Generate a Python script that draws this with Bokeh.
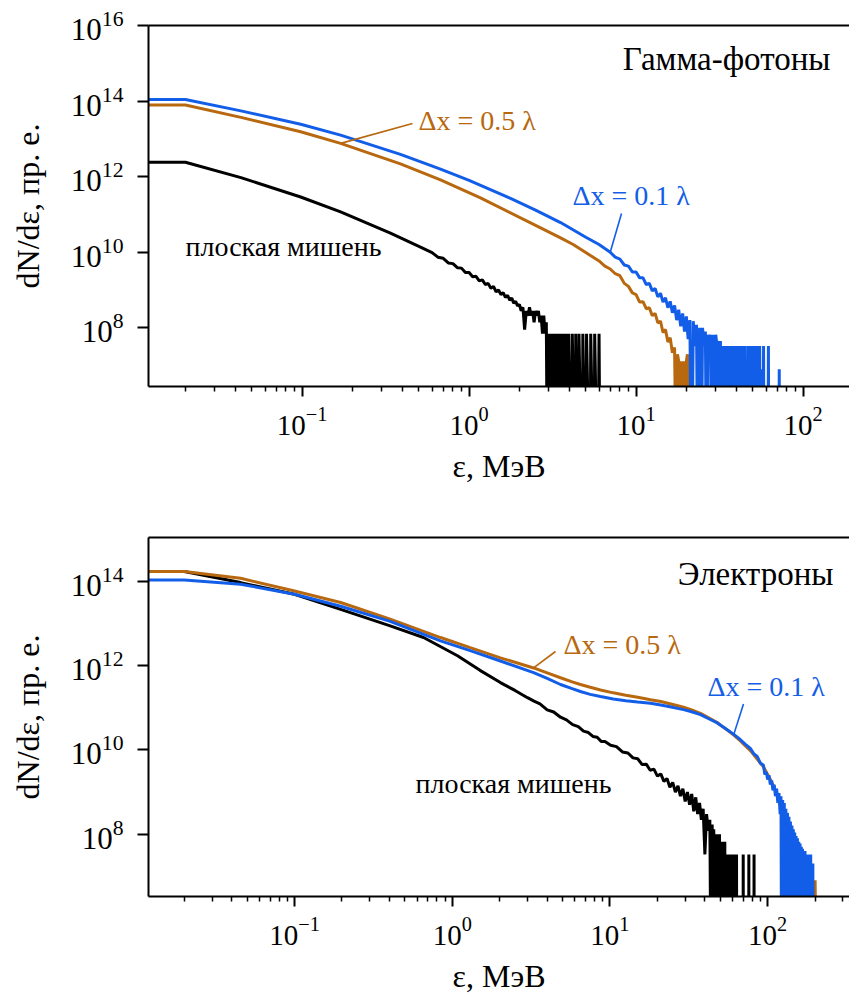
from bokeh.plotting import figure
from bokeh.models import Range1d, FixedTicker, Label, Arrow, LogAxis
from bokeh.layouts import column
from bokeh.embed import file_html
from bokeh.resources import INLINE

Z = 1e3  # empty bin (zero count): drawn down to the axis floor

# ---------------- top panel: gamma photons ----------------
g_plane_x = [0.011, 0.02, 0.043, 0.098, 0.17, 0.338, 0.5, 0.6, 0.65, 0.7,
             0.75, 0.8, 0.85, 0.9, 0.95, 1.0, 1.05, 1.1, 1.15, 1.2,
             1.25, 1.3, 1.35, 1.4, 1.45, 1.5, 1.55, 1.6, 1.65, 1.7,
             1.75, 1.8, 1.85, 1.9, 1.95, 2.0, 2.05, 2.1, 2.15, 2.2,
             2.25, 2.3, 2.35, 2.4, 2.45, 2.5, 2.55, 2.6, 2.65, 2.7,
             2.75, 2.8, 2.85, 2.9, 2.95, 3.0, 3.05, 3.1, 3.15, 3.2,
             3.25, 3.3, 3.35, 3.4, 3.45, 3.5, 3.6, 3.65, 3.75, 3.8,
             3.9, 3.95, 4.1, 4.15, 4.3, 4.35, 4.5, 4.55, 4.75, 4.8,
             5.0, 5.05, 5.3, 5.35, 5.6, 5.65, 5.9, 6.0, 6.1]
g_plane_y = [2.4e12, 2.4e12, 9.4e11, 2.9e11, 1.17e11, 3.2e10, 1.43e10, 9.8e9, 7.4e9, 6.9e9,
             5.2e9, 5.0e9, 3.9e9, 3.8e9, 2.9e9, 2.9e9, 2.25e9, 2.3e9, 1.75e9, 1.85e9,
             1.4e9, 1.5e9, 1.12e9, 1.25e9, 9.0e8, 1.0e9, 7.6e8, 8.5e8, 6.4e8, 7.2e8,
             5.4e8, 6.1e8, 4.5e8, 5.0e8, 3.8e8, 4.2e8, 2.8e8, 3.5e8, 9.0e7, 2.8e8,
             2.1e8, 3.5e8, 2.1e8, 2.8e8, 1.4e8, 2.8e8, 2.1e8, 2.8e8, 1.4e8, 2.1e8,
             7.0e7, 2.1e8, 7.0e7, 1.4e8, Z, 7e7, Z, 7e7, Z, 7e7,
             Z, 7e7, Z, 7e7, Z, 7e7, Z, 7e7, Z, 7e7,
             Z, 7e7, Z, 7e7, Z, 7e7, Z, 7e7, Z, 7e7,
             Z, 7e7, Z, 7e7, Z, 7e7, Z, 7e7, Z]

g_05_x = [0.011, 0.02, 0.043, 0.098, 0.17, 0.388, 0.674, 1.17, 2.68, 3.53,
          4.2, 5.33, 6.0, 6.5, 7.0, 7.5, 8.0, 8.5, 9.0, 9.5,
          10.0, 10.5, 11.0, 11.5, 12.0, 12.5, 13.0, 13.5, 14.0, 14.5,
          15.0, 15.5, 16.0, 16.5, 17.0, 17.5, 17.7, 18.0, 18.3, 18.6,
          19.0, 19.3, 19.6, 20.0, 20.3, 20.6]
g_05_y = [7.9e13, 7.9e13, 3.7e13, 1.54e13, 7.6e12, 2.18e12, 8.2e11, 2.74e11, 4.4e10, 2.4e10,
          1.6e10, 8.2e9, 5.9e9, 4.3e9, 3.6e9, 2.7e9, 2.4e9, 1.5e9, 1.25e9, 8.4e8,
          7.6e8, 4.8e8, 4.9e8, 3.2e8, 3.4e8, 2.1e8, 2.4e8, 1.35e8, 1.5e8, 7.5e7,
          9.0e7, 4.2e7, 5.5e7, 2.2e7, 3.0e7, Z, 2.0e7, 1.3e7, Z, 1.3e7,
          Z, 1.3e7, Z, 1.3e7, 2.0e7, Z]

g_01_x = [0.011, 0.02, 0.043, 0.098, 0.17, 0.388, 0.674, 1.0, 1.77, 2.5,
          3.53, 5.0, 6.0, 6.5, 7.0, 7.5, 8.0, 8.5, 9.0, 9.5,
          10.0, 10.5, 11.0, 11.5, 12.0, 12.5, 13.0, 13.5, 14.0, 14.5,
          15.0, 15.5, 16.0, 16.5, 17.0, 17.5, 18.0, 18.5, 19.0, 19.5,
          20.0, 20.5, 21.0, 21.5, 22.0, 22.5, 23.0, 23.5, 24.0, 24.5,
          25.0, 25.5, 26.0, 26.5, 27.0, 27.5, 28.0, 28.5, 29.0, 29.5,
          30.0, 30.5, 31.0, 31.5, 32.0, 32.5, 33.0, 33.5, 34.0, 34.5,
          35.0, 35.5, 36.0, 36.5, 37.0, 37.5, 38.0, 38.5, 39.0, 39.5,
          40.0, 40.5, 41.0, 41.5, 42.0, 42.5, 43.0, 43.5, 44.0, 44.5,
          45.0, 45.5, 46.0, 46.5, 47.0, 47.5, 48.0, 48.5, 49.0, 49.5,
          50.0, 50.5, 51.0, 51.5, 52.0, 52.5, 53.0, 53.5, 54.0, 54.5,
          55.0, 55.5, 56.0, 56.5, 57.5, 58.0, 58.5, 61.5, 62.0, 62.5,
          71.5, 72.0, 72.5]
g_01_y = [1.1e14, 1.1e14, 5.5e13, 2.44e13, 1.26e13, 3.9e12, 1.59e12, 8.0e11, 2.65e11, 1.3e11,
          6.1e10, 2.5e10, 1.6e10, 1.25e10, 1.0e10, 7.4e9, 6.6e9, 4.6e9, 4.3e9, 3.0e9,
          3.0e9, 2.1e9, 2.1e9, 1.4e9, 1.5e9, 9.5e8, 1.1e9, 6.6e8, 8.2e8, 4.8e8,
          6.2e8, 3.4e8, 5.0e8, 2.5e8, 3.9e8, 1.6e8, 3.0e8, 1.1e8, 2.4e8, 8.0e7,
          2.0e8, 5.0e7, 1.6e8, Z, 1.5e8, 3.3e7, 1.2e8, Z, 1.0e8, Z,
          1.0e8, 3.3e7, 8.0e7, Z, 6.6e7, 3.3e7, 6.6e7, Z, 6.6e7, Z,
          6.6e7, 3.3e7, 4.5e7, Z, 4.5e7, Z, 3.3e7, Z, 3.3e7, Z,
          3.3e7, Z, 3.3e7, Z, 3.3e7, Z, 3.3e7, Z, 3.3e7, Z,
          3.3e7, Z, 3.3e7, Z, 3.3e7, Z, 3.3e7, Z, 3.3e7, Z,
          3.3e7, Z, 1.3e7, Z, 3.3e7, Z, 3.3e7, Z, 3.3e7, Z,
          8.0e6, Z, 3.3e7, Z, 8.0e6, Z, 3.3e7, Z, 8.0e6, Z,
          3.3e7, Z, 8.0e6, Z, Z, 3.3e7, Z, Z, 3.3e7, Z,
          Z, 8.0e6, Z]

# ---------------- bottom panel: electrons ----------------
e_plane_x = [0.011, 0.02, 0.0455, 0.1, 0.196, 0.4, 0.658, 1.08, 1.5, 2.02,
             2.5, 3.0, 3.3, 3.6, 4.0, 4.4, 4.86, 5.3, 5.8, 6.3,
             6.8, 7.3, 7.8, 8.3, 8.8, 9.3, 10.1, 11.0, 12.0, 13.0,
             14.0, 15.0, 16.0, 17.0, 18.0, 19.0, 20.0, 21.0, 22.0, 23.0,
             24.0, 25.0, 26.0, 27.0, 28.0, 29.0, 30.0, 31.0, 32.0, 33.0,
             34.0, 35.0, 36.0, 37.0, 38.0, 39.0, 40.0, 41.0, 42.0, 43.0,
             44.0, 44.5, 45.0, 45.5, 46.0, 46.5, 47.0, 47.5, 48.0, 48.5,
             49.0, 49.5, 50.0, 50.5, 51.0, 51.5, 52.0, 52.5, 53.0, 53.5,
             54.0, 54.5, 55.0, 55.5, 56.0, 56.5, 57.0, 57.5, 58.0, 58.5,
             59.0, 59.5, 60.0, 60.5, 61.0, 61.5, 62.0, 63.3, 63.5, 63.7,
             69.8, 70.0, 70.2, 75.8, 76.0, 76.2, 81.8, 82.0, 82.2]
e_plane_y = [1.74e14, 1.74e14, 9.5e13, 5.0e13, 2.2e13, 9.0e12, 4.7e12, 1.74e12, 7.8e11, 4.0e11,
             2.6e11, 1.75e11, 1.45e11, 1.25e11, 9.0e10, 8.0e10, 6.0e10, 5.2e10, 4.0e10, 3.6e10,
             2.8e10, 2.6e10, 2.1e10, 2.0e10, 1.6e10, 1.6e10, 1.3e10, 1.2e10, 9.0e9, 8.5e9,
             6.5e9, 6.2e9, 4.5e9, 4.6e9, 3.3e9, 3.5e9, 2.4e9, 2.7e9, 1.8e9, 2.1e9,
             1.3e9, 1.7e9, 1.0e9, 1.4e9, 8.0e8, 1.2e9, 6.0e8, 1.0e9, 5.0e8, 9.0e8,
             3.5e8, 7.5e8, 3.0e8, 5.5e8, 2.2e8, 4.0e8, 3.3e7, 3.0e8, 1.2e8, 2.2e8,
             Z, 1.7e8, Z, 1.3e8, 3.3e7, 1.0e8, Z, 1.0e8, Z, 6.6e7,
             Z, 1.0e8, Z, 6.6e7, Z, 6.6e7, Z, 3.3e7, Z, 6.6e7,
             Z, 3.3e7, Z, 3.3e7, Z, 3.3e7, Z, 3.3e7, Z, 3.3e7,
             Z, 3.3e7, Z, 3.3e7, Z, 3.3e7, Z, Z, 3.3e7, Z,
             Z, 3.3e7, Z, Z, 3.3e7, Z, Z, 3.3e7, Z]

e_05_x = [0.011, 0.02, 0.0455, 0.1, 0.196, 0.4, 0.843, 1.3, 2.02, 3.28,
          4.0, 4.86, 5.7, 6.5, 7.5, 8.71, 10.5, 12.6, 15.0, 18.1,
          21.0, 24.0, 29.3, 33.0, 37.5, 42.0, 47.9, 52.0, 56.0, 61.0,
          66.0, 72.0, 78.0, 86.0, 94.0, 104.0, 115.0, 120.0, 125.0, 130.0,
          135.0, 140.0, 145.0, 150.0, 155.0, 160.0, 165.0, 170.0, 175.0, 180.0,
          185.0, 190.0, 195.0, 200.0, 205.0]
e_05_y = [1.74e14, 1.74e14, 1.2e14, 6.0e13, 3.2e13, 1.3e13, 4.7e12, 2.7e12, 1.55e12, 8.9e11,
          6.8e11, 5.2e11, 4.2e11, 3.6e11, 3.1e11, 2.67e11, 2.28e11, 2.0e11, 1.79e11, 1.57e11,
          1.42e11, 1.26e11, 1.04e11, 9.0e10, 7.4e10, 5.9e10, 4.5e10, 3.55e10, 2.9e10, 2.25e10,
          1.75e10, 1.26e10, 9.5e9, 6.0e9, 4.0e9, 2.0e9, 9.0e8, 5.0e8, 3.0e8, 1.8e8,
          1.0e8, 6.0e7, 3.3e7, 4.0e7, Z, 2.0e7, Z, 1.5e7, Z, 1.0e7,
          Z, 1.0e7, Z, 8.0e6, Z]

e_01_x = [0.011, 0.02, 0.0455, 0.1, 0.196, 0.4, 0.843, 1.3, 2.02, 3.28,
          4.0, 4.86, 5.7, 6.5, 7.5, 8.71, 10.5, 12.6, 15.0, 18.1,
          21.0, 24.0, 29.3, 33.0, 37.5, 42.0, 47.9, 52.0, 56.0, 61.0,
          66.0, 72.0, 78.0, 82.0, 86.0, 90.0, 94.0,
          96.0, 98.0, 100.0, 102.0, 104.0, 106.0, 108.0, 110.0, 112.0, 114.0,
          116.0, 118.0, 120.0, 121.5, 123.0, 124.5, 126.0, 127.5, 129.0, 130.5,
          132.0, 133.5, 135.0, 136.5, 138.0, 139.5, 141.0, 142.5, 144.0, 145.5,
          147.0, 148.5, 150.0, 151.5, 153.0, 154.5, 156.0, 157.5, 159.0, 160.5,
          162.0, 163.5, 165.0, 166.5, 168.0, 169.5, 171.0, 172.5, 174.0, 175.5,
          177.0, 178.5, 180.0, 181.5, 183.0, 184.5, 186.0, 187.5, 189.0, 190.5,
          192.0, 193.5, 195.0]
e_01_y = [1.1e14, 1.1e14, 8.7e13, 5.0e13, 2.6e13, 1.15e13, 3.9e12, 2.3e12, 1.3e12, 6.9e11,
          5.0e11, 3.6e11, 2.9e11, 2.45e11, 2.1e11, 1.86e11, 1.62e11, 1.48e11, 1.38e11, 1.29e11,
          1.17e11, 1.07e11, 9.1e10, 8.1e10, 6.9e10, 5.6e10, 4.4e10, 3.55e10, 2.95e10, 2.35e10,
          1.86e10, 1.38e10, 1.07e10, 8.0e9, 7.0e9, 4.8e9, 4.4e9,
          2.6e9, 3.0e9, 2.0e9, 2.5e9, 1.5e9, 1.9e9, 1.1e9, 1.5e9, 8.0e8, 1.2e9,
          5.5e8, 9.5e8, 3.0e8, 8.0e8, Z, 6.5e8, 1.0e8, 5.5e8, Z, 4.0e8,
          Z, 3.2e8, 6.6e7, 2.6e8, Z, 2.0e8, Z, 1.6e8, 3.3e7, 1.3e8,
          Z, 1.1e8, Z, 9.0e7, Z, 8.0e7, Z, 6.6e7, Z, 6.0e7,
          Z, 5.0e7, Z, 4.5e7, Z, 4.0e7, Z, 4.0e7, Z, 3.3e7,
          Z, 3.3e7, Z, 3.3e7, Z, 3.3e7, Z, 3.3e7, Z, 2.0e7,
          Z, 2.0e7, Z]

# axis ticks
x_major = [0.1, 1, 10, 100]
x_minor_top = [0.02, 0.03, 0.04, 0.05, 0.06, 0.07, 0.08, 0.09,
               0.2, 0.3, 0.4, 0.5, 0.6, 0.7, 0.8, 0.9,
               2, 3, 4, 5, 6, 7, 8, 9,
               20, 30, 40, 50, 60, 70, 80, 90]
x_minor_bottom = x_minor_top + [200, 300]
y_major_top = [1e8, 1e10, 1e12, 1e14, 1e16]
y_major_bottom = [1e8, 1e10, 1e12, 1e14]

BLACK = "#000000"
ORANGE = "#b8680e"
BLUE = "#135ee8"
FONT = "Liberation Serif"


def make_panel(xr, yr, ymaj, xmin, border_top, border_bottom, frame_h):
    p = figure(x_axis_type="log", y_axis_type="log",
               x_range=Range1d(*xr), y_range=Range1d(*yr),
               frame_width=701, frame_height=frame_h,
               min_border_left=148, min_border_right=0,
               min_border_top=border_top, min_border_bottom=border_bottom,
               output_backend="svg", toolbar_location=None)
    p.grid.visible = False
    p.outline_line_color = None
    p.background_fill_color = "white"
    p.border_fill_color = "white"
    for ax in (p.xaxis[0], p.yaxis[0]):
        ax.axis_line_width = 2
        ax.major_tick_line_width = 2
        ax.minor_tick_line_width = 1.5
        ax.major_tick_in = 0
        ax.minor_tick_in = 0
        ax.major_label_text_font = FONT
        ax.major_label_text_color = "black"
        ax.axis_label_text_font = FONT
        ax.axis_label_text_font_size = "32px"
        ax.axis_label_text_font_style = "normal"
        ax.axis_label_text_color = "black"
    p.xaxis[0].major_label_text_font_size = "29px"
    p.yaxis[0].major_label_text_font_size = "31px"
    p.xaxis[0].ticker = FixedTicker(ticks=x_major, minor_ticks=xmin)
    p.xaxis[0].major_tick_out = 10
    p.xaxis[0].minor_tick_out = 5
    p.xaxis[0].major_label_standoff = 10
    p.xaxis[0].axis_label = "ε, МэВ"
    p.xaxis[0].axis_label_standoff = 10
    p.yaxis[0].ticker = FixedTicker(ticks=ymaj, minor_ticks=[])
    p.yaxis[0].major_tick_out = 11
    p.yaxis[0].major_label_standoff = 14
    p.yaxis[0].axis_label = "dN/dε, пр. е."
    p.yaxis[0].axis_label_standoff = 22
    top = LogAxis(ticker=FixedTicker(ticks=[], minor_ticks=[]),
                  major_tick_line_color=None, minor_tick_line_color=None,
                  major_label_text_font_size="0px", axis_line_width=2)
    p.add_layout(top, "above")
    return p


def note(p, text, x, y, color, align="left", size="28px"):
    p.add_layout(Label(x=x, y=y, x_units="screen", y_units="screen", text=text,
                       text_align=align, text_baseline="middle",
                       text_font=FONT, text_font_size=size, text_color=color))


def leader(p, sx, sy, dx, dy, color):
    p.add_layout(Arrow(end=None, x_start=sx, y_start=sy, start_units="screen",
                       x_end=dx, y_end=dy, end_units="data",
                       line_color=color, line_width=1.6))


# ---- top figure ----
p1 = make_panel((0.01202, 189.7), (2.8e6, 1e16), y_major_top, x_minor_top,
                25, 122, 361)
p1.line(g_plane_x, g_plane_y, line_color=BLACK, line_width=3)
p1.line(g_05_x, g_05_y, line_color=ORANGE, line_width=3)
p1.line(g_01_x, g_01_y, line_color=BLUE, line_width=3)
note(p1, "Гамма-фотоны", 682, 327.5, "black", align="right", size="33px")
note(p1, "Δx = 0.5 λ", 270, 266.5, ORANGE)
note(p1, "Δx = 0.1 λ", 424, 191.5, BLUE)
note(p1, "плоская мишень", 37, 140.5, "black")
i = g_05_x.index(0.17)
leader(p1, 264, 263, g_05_x[i], g_05_y[i], ORANGE)
i = g_01_x.index(7.0)
leader(p1, 473, 173, g_01_x[i], g_01_y[i], BLUE)

# ---- bottom figure ----
p2 = make_panel((0.01186, 330.4), (3.3e6, 1.12e15), y_major_bottom, x_minor_bottom,
                29, 102, 359)
p2.line(e_plane_x, e_plane_y, line_color=BLACK, line_width=3)
p2.line(e_05_x, e_05_y, line_color=ORANGE, line_width=3)
p2.line(e_01_x, e_01_y, line_color=BLUE, line_width=3)
note(p2, "Электроны", 685, 322.7, "black", align="right", size="33px")
note(p2, "Δx = 0.5 λ", 415, 251.7, ORANGE)
note(p2, "Δx = 0.1 λ", 559, 209.7, BLUE)
note(p2, "плоская мишень", 267, 112.7, "black")
i = e_05_x.index(3.28)
leader(p2, 407, 245, e_05_x[i], e_05_y[i], ORANGE)
i = e_01_x.index(61.0)
leader(p2, 595, 192.4, e_01_x[i], e_01_y[i], BLUE)

layout = column(p1, p2, spacing=0)
html = file_html(layout, INLINE, title="spectra")
with open("out.html", "w") as f:
    f.write(html)
